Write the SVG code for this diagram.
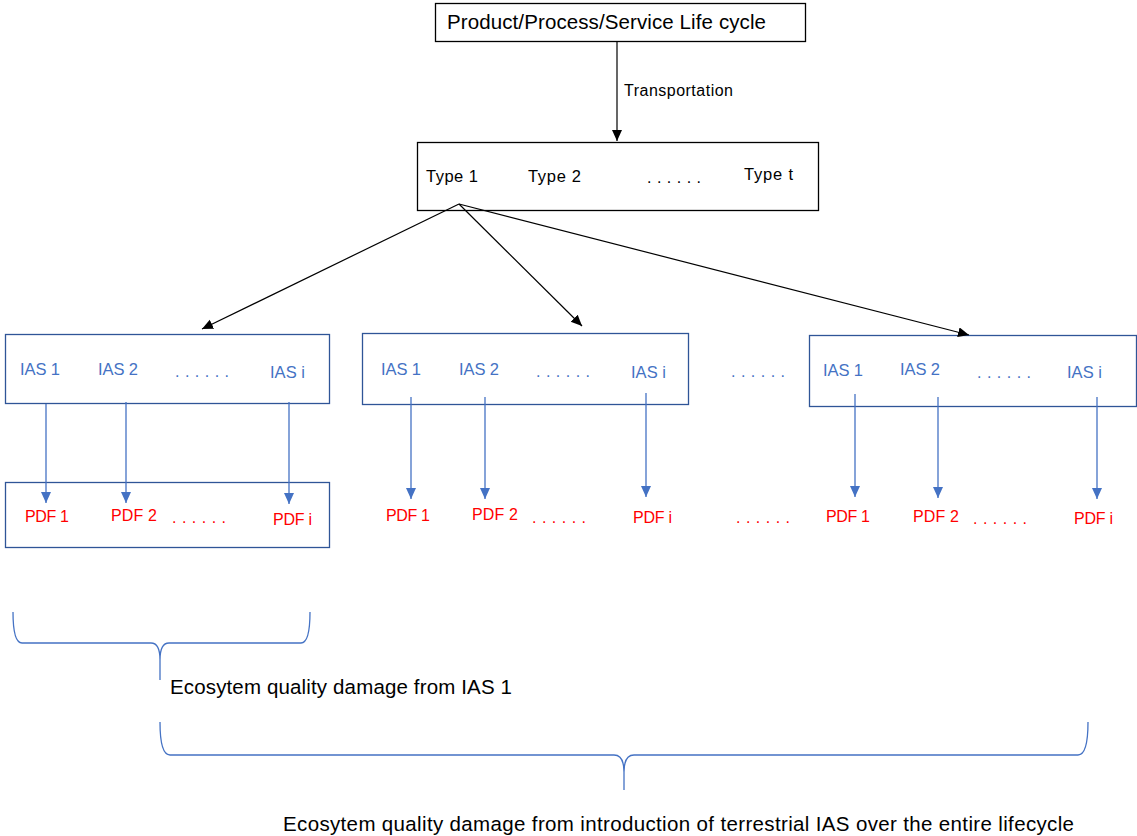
<svg xmlns="http://www.w3.org/2000/svg" width="1137" height="836" viewBox="0 0 1137 836">
<defs>
<style>
text{font-family:"Liberation Sans",Arial,sans-serif;}
.k{fill:#000;}
.b{fill:#4472C4;}
.r{fill:#FF0000;}
.box{fill:#fff;stroke:#000;stroke-width:1.3;}
.bbox{fill:#fff;stroke:#2F5597;stroke-width:1.3;}
.bl{stroke:#000;stroke-width:1.2;fill:none;}
.ba{stroke:#4472C4;stroke-width:1.3;fill:none;}
.br{stroke:#4472C4;stroke-width:1.3;fill:none;}
</style>
<marker id="ak" markerUnits="userSpaceOnUse" markerWidth="12" markerHeight="12" refX="11" refY="5" orient="auto">
<path d="M0,0 L11,5 L0,10 Z" fill="#000"/>
</marker>
<marker id="ab" markerUnits="userSpaceOnUse" markerWidth="12" markerHeight="12" refX="11" refY="5" orient="auto">
<path d="M0,0 L11,5 L0,10 Z" fill="#4472C4"/>
</marker>
</defs>
<rect width="1137" height="836" fill="#fff"/>

<g id="lifecycle">
<rect class="box" x="435.5" y="3.5" width="370" height="38"/>
<text class="k" x="447" y="29" font-size="20.5" textLength="319">Product/Process/Service Life cycle</text>
</g>

<g id="types">
<rect class="box" x="417.5" y="142.5" width="401" height="68"/>
<text class="k" x="426" y="182" font-size="16.5" textLength="52">Type 1</text>
<text class="k" x="528" y="182" font-size="16.5" textLength="53">Type 2</text>
<text class="k" x="647" y="183" font-size="16" textLength="54">......</text>
<text class="k" x="744" y="180" font-size="16.5" textLength="49">Type t</text>
</g>

<g id="ias-box-1">
<rect class="bbox" x="5.5" y="334.5" width="324" height="69"/>
<text class="b" x="20" y="375" font-size="16.5" textLength="40">IAS 1</text>
<text class="b" x="98" y="375" font-size="16.5" textLength="40">IAS 2</text>
<text class="b" x="175" y="377" font-size="16" textLength="54">......</text>
<text class="b" x="270" y="378" font-size="16.5" textLength="35">IAS i</text>
</g>

<g id="ias-box-2">
<rect class="bbox" x="362.5" y="333.5" width="326" height="71"/>
<text class="b" x="381" y="375" font-size="16.5" textLength="40">IAS 1</text>
<text class="b" x="459" y="375" font-size="16.5" textLength="40">IAS 2</text>
<text class="b" x="536" y="377" font-size="16" textLength="54">......</text>
<text class="b" x="631" y="378" font-size="16.5" textLength="35">IAS i</text>
</g>

<g id="ias-gap">
<text class="b" x="731" y="377" font-size="16" textLength="54">......</text>
</g>

<g id="ias-box-3">
<rect class="bbox" x="809.5" y="335.5" width="327" height="71"/>
<text class="b" x="823" y="376" font-size="16.5" textLength="40">IAS 1</text>
<text class="b" x="900" y="375" font-size="16.5" textLength="40">IAS 2</text>
<text class="b" x="977" y="378" font-size="16" textLength="54">......</text>
<text class="b" x="1067" y="378" font-size="16.5" textLength="35">IAS i</text>
</g>

<g id="pdf-box-1">
<rect class="bbox" x="5.5" y="482.5" width="324" height="65"/>
<text class="r" x="25" y="522" font-size="16" textLength="44">PDF 1</text>
<text class="r" x="111" y="521" font-size="16" textLength="46">PDF 2</text>
<text class="r" x="172" y="523" font-size="16" textLength="54">......</text>
<text class="r" x="273" y="525" font-size="16" textLength="39">PDF i</text>
</g>

<g id="pdf-group-2">
<text class="r" x="386" y="521" font-size="16" textLength="44">PDF 1</text>
<text class="r" x="472" y="520" font-size="16" textLength="46">PDF 2</text>
<text class="r" x="532" y="523" font-size="16" textLength="54">......</text>
<text class="r" x="633" y="523" font-size="16" textLength="39">PDF i</text>
</g>

<g id="pdf-gap">
<text class="r" x="736" y="523" font-size="16" textLength="54">......</text>
</g>

<g id="pdf-group-3">
<text class="r" x="826" y="522" font-size="16" textLength="44">PDF 1</text>
<text class="r" x="913" y="522" font-size="16" textLength="46">PDF 2</text>
<text class="r" x="973" y="524" font-size="16" textLength="54">......</text>
<text class="r" x="1074" y="524" font-size="16" textLength="39">PDF i</text>
</g>

<g id="connectors">
<line class="bl" x1="617" y1="41" x2="617" y2="141" marker-end="url(#ak)"/>
<text class="k" x="624" y="96" font-size="16" textLength="109">Transportation</text>
<line class="bl" x1="459" y1="204" x2="202" y2="329" marker-end="url(#ak)"/>
<line class="bl" x1="459" y1="204" x2="582" y2="326" marker-end="url(#ak)"/>
<line class="bl" x1="459" y1="204" x2="969" y2="335" marker-end="url(#ak)"/>

<line class="ba" x1="46" y1="404" x2="46" y2="503" marker-end="url(#ab)"/>
<line class="ba" x1="126" y1="402" x2="126" y2="503" marker-end="url(#ab)"/>
<line class="ba" x1="289" y1="402" x2="289" y2="504" marker-end="url(#ab)"/>

<line class="ba" x1="411" y1="397" x2="411" y2="499" marker-end="url(#ab)"/>
<line class="ba" x1="485" y1="397" x2="485" y2="499" marker-end="url(#ab)"/>
<line class="ba" x1="646" y1="393" x2="646" y2="497" marker-end="url(#ab)"/>

<line class="ba" x1="855" y1="394" x2="855" y2="497" marker-end="url(#ab)"/>
<line class="ba" x1="938" y1="397" x2="938" y2="498" marker-end="url(#ab)"/>
<line class="ba" x1="1097" y1="397" x2="1097" y2="499" marker-end="url(#ab)"/>
</g>

<g id="brace-ias1">
<path class="br" d="M13,612 Q13,643 22,643 L151,643 Q160,643 160,660 L160,680 M160,660 Q160,643 169,643 L301,643 Q310,643 310,612"/>
<text class="k" x="170" y="694" font-size="20.5" textLength="342">Ecosytem quality damage from IAS 1</text>
</g>

<g id="brace-total">
<path class="br" d="M160,722 Q160,755 170,755 L614,755 Q624,755 624,772 L624,790 M624,772 Q624,755 634,755 L1078,755 Q1088,755 1088,722"/>
<text class="k" x="283" y="831" font-size="20.5" textLength="791">Ecosytem quality damage from introduction of terrestrial IAS over the entire lifecycle</text>
</g>
</svg>
